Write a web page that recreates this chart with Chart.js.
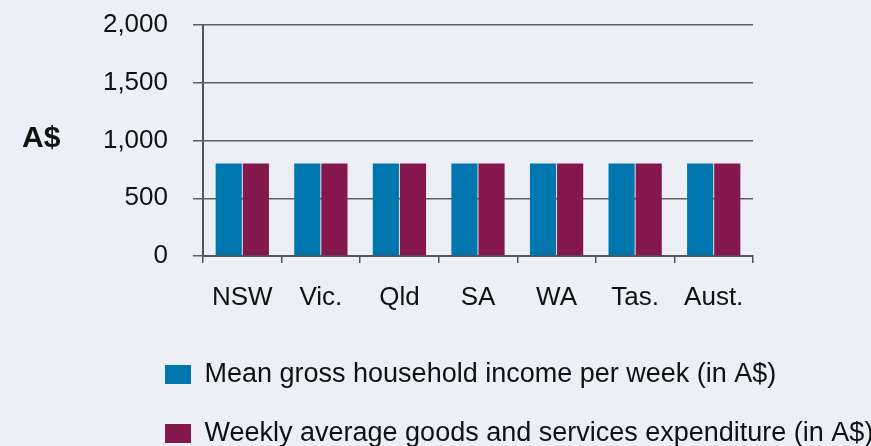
<!DOCTYPE html>
<html>
<head>
<meta charset="utf-8">
<script src="https://cdn.jsdelivr.net/npm/chart.js@4"></script>
<style>
  html, body { margin: 0; padding: 0; background: #ECEFF6; }
  #wrap { width: 871px; height: 446px; }
</style>
</head>
<body>
<div id="wrap"><canvas id="incomeChart" width="871" height="446"></canvas></div>
<script>
const states = ['NSW', 'Vic.', 'Qld', 'SA', 'WA', 'Tas.', 'Aust.'];
const meanIncome = [800, 800, 800, 800, 800, 800, 800];
const avgExpenditure = [800, 800, 800, 800, 800, 800, 800];
const yTicks = [0, 500, 1000, 1500, 2000];

const axisColor = '#555555';
const fontFamily = '"Liberation Sans", Arial, sans-serif';

// draws the horizontal "A$" unit label left of the y axis
const unitLabel = {
    id: 'unitLabel',
    afterDraw(chart) {
        const ctx = chart.ctx;
        ctx.save();
        ctx.font = 'bold 30px ' + fontFamily;
        ctx.fillStyle = '#111111';
        ctx.textAlign = 'left';
        ctx.textBaseline = 'middle';
        ctx.fillText('A$', 22, 139);
        ctx.restore();
    }
};

// legend sits under the plot but starts left of it and runs past its right edge
const legendSpan = {
    id: 'legendSpan',
    afterLayout(chart) {
        const lg = chart.legend;
        lg.left = 133;
        lg.right = chart.width;
        lg.width = lg.right - lg.left;
    }
};

Chart.defaults.font.family = fontFamily;
Chart.defaults.color = '#111111';

const ctx = document.getElementById('incomeChart').getContext('2d');
new Chart(ctx, {
    type: 'bar',
    data: {
        labels: states,
        datasets: [{
            label: 'Mean gross household income per week (in A$)',
            data: meanIncome,
            backgroundColor: '#0076AE',
            categoryPercentage: 0.69,
            barPercentage: 0.965
        }, {
            label: 'Weekly average goods and services expenditure (in A$)',
            data: avgExpenditure,
            backgroundColor: '#84184C',
            categoryPercentage: 0.69,
            barPercentage: 0.965
        }]
    },
    options: {
        responsive: false,
        animation: false,
        layout: {
            padding: { top: 25, left: 0, right: 118, bottom: -11 }
        },
        scales: {
            x: {
                grid: {
                    offset: true,
                    drawOnChartArea: false,
                    tickLength: 7,
                    lineWidth: 1.5,
                    color: axisColor
                },
                border: { color: axisColor, width: 2 },
                ticks: {
                    padding: 19,
                    font: { size: 26 }
                },
                afterFit(scale) {
                    scale.height = 73;
                }
            },
            y: {
                min: 0,
                max: 2000,
                afterBuildTicks(scale) {
                    scale.ticks = yTicks.map(v => ({ value: v }));
                },
                grid: {
                    color: '#5e5e5e',
                    lineWidth: 1.5,
                    tickLength: 10
                },
                border: { color: axisColor, width: 2 },
                ticks: {
                    padding: 25,
                    font: { size: 26 }
                },
                afterFit(scale) {
                    scale.width = 203;
                    scale.paddingTop = 0;
                }
            }
        },
        plugins: {
            legend: {
                position: 'bottom',
                align: 'start',
                labels: {
                    boxWidth: 26,
                    boxHeight: 19,
                    padding: 32,
                    font: { size: 27 },
                    color: '#111111'
                }
            },
            tooltip: { enabled: false }
        }
    },
    plugins: [unitLabel, legendSpan]
});
</script>
</body>
</html>
